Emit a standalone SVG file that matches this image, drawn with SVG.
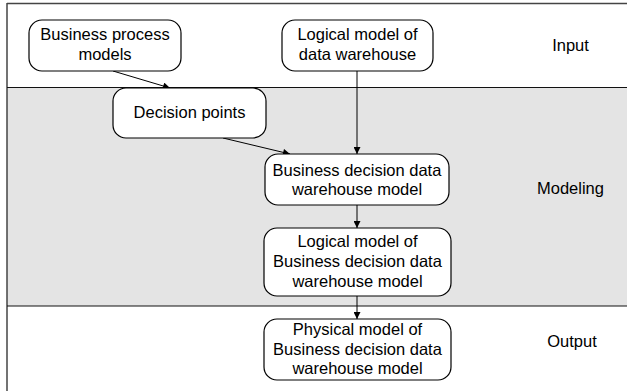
<svg xmlns="http://www.w3.org/2000/svg" width="627" height="391" viewBox="0 0 627 391">
<style>
.node rect{fill:#fff;stroke:#000;stroke-width:1.2}
text{font-family:"Liberation Sans",Arial,sans-serif;font-size:16.5px;fill:#000;text-anchor:middle}
.edge{stroke:#000;stroke-width:1;fill:none;marker-end:url(#ah)}
</style>
<defs>
<marker id="ah" viewBox="0 0 10 10" refX="10" refY="5" markerWidth="8" markerHeight="7" markerUnits="userSpaceOnUse" orient="auto">
<path d="M0,0 L10,5 L0,10 z" fill="#000"/>
</marker>
</defs>
<rect x="0" y="0" width="627" height="391" fill="#fff"/>
<g id="bands">
<rect x="7" y="87" width="620" height="219" fill="#e4e4e4"/>
<line x1="7" y1="3.5" x2="627" y2="3.5" stroke="#444" stroke-width="1.5"/>
<line x1="7" y1="3" x2="7" y2="391" stroke="#444" stroke-width="1.5"/>
<line x1="7" y1="87.5" x2="627" y2="87.5" stroke="#111" stroke-width="1.2"/>
<line x1="7" y1="306" x2="627" y2="306" stroke="#111" stroke-width="1.2"/>
<text x="570.5" y="51">Input</text>
<text x="570.5" y="194">Modeling</text>
<text x="572" y="347">Output</text>
</g>
<g id="connectors">
<line class="edge" x1="113" y1="71" x2="170" y2="88"/>
<line class="edge" x1="357" y1="71" x2="357" y2="154"/>
<line class="edge" x1="223" y1="138" x2="290" y2="154"/>
<line class="edge" x1="357" y1="205" x2="357" y2="228"/>
<line class="edge" x1="357" y1="296" x2="357" y2="319"/>
</g>
<g id="n-bpm" class="node">
<rect x="29" y="20" width="152" height="51" rx="13"/>
<text x="105" y="40">Business process</text>
<text x="105" y="60">models</text>
</g>
<g id="n-lmdw" class="node">
<rect x="282" y="20" width="151" height="51" rx="13"/>
<text x="357.5" y="40">Logical model of</text>
<text x="357.5" y="60">data warehouse</text>
</g>
<g id="n-dp" class="node">
<rect x="113" y="88" width="153" height="50" rx="13"/>
<text x="189.5" y="118">Decision points</text>
</g>
<g id="n-bddw" class="node">
<rect x="265" y="154" width="184" height="51" rx="13"/>
<text x="357" y="176">Business decision data</text>
<text x="357" y="195">warehouse model</text>
</g>
<g id="n-lbddw" class="node">
<rect x="264" y="228" width="187" height="68" rx="13"/>
<text x="357.5" y="247">Logical model of</text>
<text x="357.5" y="267">Business decision data</text>
<text x="357.5" y="287">warehouse model</text>
</g>
<g id="n-pbddw" class="node">
<rect x="264" y="319" width="187" height="61" rx="13"/>
<text x="357.5" y="335">Physical model of</text>
<text x="357.5" y="355">Business decision data</text>
<text x="357.5" y="374">warehouse model</text>
</g>
</svg>
